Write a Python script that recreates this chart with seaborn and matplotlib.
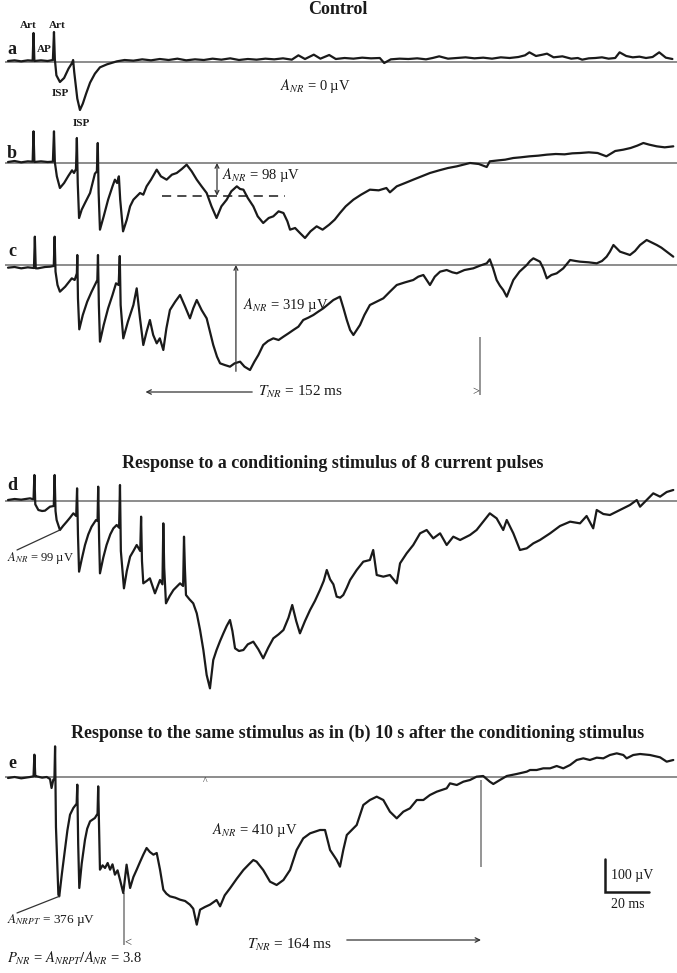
import matplotlib
matplotlib.use("Agg")
import matplotlib.pyplot as plt
import seaborn as sns

# Field potential traces, time in ms from sweep start, potential in uV
# relative to the pre-stimulus baseline

a_t = [0, 3, 6, 9, 11.2, 11.6, 12.0, 15, 18, 20.4, 20.9, 21.3, 22.0, 23.6, 25.5, 27.5, 29.1, 29.6,
       30.1, 31.5, 32.7, 34, 35.5, 37.3, 39.5, 41.8, 45, 49.5, 53, 57, 61, 65, 69, 73, 77, 81, 85,
       89, 93, 97, 101, 105, 109, 113, 117, 121, 125, 129, 132, 135, 139, 142, 146, 149, 153, 157,
       161, 165, 169, 171, 174, 178, 182, 186, 190, 193, 196, 200, 204, 208, 212, 216, 220, 224,
       228, 232, 235, 237, 240, 243, 245, 248, 252, 256, 259, 261, 264, 267, 270, 273, 276, 278,
       281, 284, 287, 290, 293, 296, 299, 302]
a_uv = [3, 5, 2, 5, 4, 87, 3, 5, 3, 6, 90, 8, -40, -60, -48, -20, -3, 6,
        -30, -110, -144, -125, -95, -62, -35, -16, -7, 2, 6, 4, 8, 5, 9, 6, 10, 5, 8,
        6, 10, 7, 11, 6, 9, 7, 10, 8, 11, 7, 20, 9, 22, 10, 21, 9, 12, 10,
        13, 11, 12, -3, 8, 10, 9, 11, 8, 12, 17, 10, 12, 14, 11, 13, 10, 14,
        12, 15, 20, 29, 18, 22, 25, 14, 17, 10, 12, 7, 11, 12, 14, 10, 12, 29,
        18, 14, 16, 12, 15, 29, 13, 9]

b_t = [0, 3, 6, 9, 11.2, 11.6, 12.0, 15, 18, 20.4, 20.9, 21.3, 22.2, 23.6, 25.5, 27.5, 29.1, 30,
       30.9, 31.3, 31.7, 32.3, 33.5, 35, 37.3, 39.5, 40.4, 40.8, 41.2, 41.8, 43.5, 45.5, 47.5, 48.6,
       49.6, 50.4, 51, 52.3, 54, 55.5, 57, 58.5, 60, 61.5, 63, 65, 67.6, 69.5, 72.1, 74.5, 76.7, 79,
       81.2, 83.5, 85.8, 88, 90.3, 92.5, 94.8, 97, 99.4, 101.5, 104, 105.5, 107, 109, 111.5, 113.5,
       116, 118.5, 120.6, 123, 125.2, 127, 128.2, 130.5, 132.7, 135, 137.5, 140.3, 143, 146, 148.5,
       150.9, 153.5, 157, 160.5, 164.5, 168.5, 172, 173.6, 176.7, 180.5, 184.2, 188, 191.8, 196,
       200, 204, 207, 210, 214, 217.6, 219, 223, 226, 229.7, 233, 237, 241, 244.9, 249, 253, 256.5,
       260, 264, 268, 272, 276, 279.7, 283, 286, 288.8, 291.5, 294.9, 298.5, 302.4]
b_uv = [3, 6, 2, 5, 4, 95, 3, 5, 3, 4, 95, 2, -40, -75, -60, -38, -22, -30,
        -18, 75, -60, -165, -140, -120, -90, -32, -25, 60, -90, -200, -160, -110, -70, -50,
        -60, -40, -110, -205, -170, -130, -110, -100, -90, -95, -70, -50, -20, -40, -50, -35, -30, -18,
        -5, -25, -50, -70, -90, -130, -165, -130, -110, -85, -70, -78, -80, -105, -130, -160,
        -180, -165, -160, -145, -150, -175, -200, -195, -210, -225, -205, -190, -200, -185, -170,
        -150, -130, -110, -95, -80, -82, -75, -88, -70, -60, -50, -40, -30, -22,
        -15, -10, -5, 0, -3, -12, 5, 8, 10, 15, 17, 20, 22, 25, 27, 26, 29,
        30, 32, 30, 20, 36, 40, 45, 52, 60, 55, 50, 47, 50]

c_t = [0, 3, 6, 9, 11.8, 12.2, 12.6, 13.6, 16.8, 19.1, 20.8, 21.2, 21.6, 22.5, 23.6, 26, 29, 30.3,
       31.3, 31.5, 31.8, 32.4, 34, 36, 38, 39.5, 40.6, 40.9, 41.3, 41.8, 43.5, 45.5, 47.5, 49.1,
       50.3, 50.8, 51.2, 52.4, 54.5, 57, 58.5, 60, 61.5, 63, 64.5, 66, 67.6, 69, 70.6, 72, 73.6, 76,
       78.2, 80.5, 82.7, 84.2, 85.8, 88, 90.3, 91.8, 93.3, 95, 96.4, 98.5, 100.9, 103, 105.5, 107.5,
       110, 112, 113.8, 116, 118.2, 120.6, 123, 125.2, 127.5, 129.7, 132, 134.2, 136.5, 138.8, 141,
       143.3, 145.5, 147.9, 150.9, 152.5, 154, 155.5, 157, 158.5, 160, 162, 164.5, 167.5, 170.6,
       173.6, 176.7, 180.5, 184.2, 186.5, 188.8, 190.3, 191.8, 194, 196.4, 199.4, 202, 204, 207.5,
       211.5, 214.5, 217.6, 219, 220.5, 222.1, 223.6, 225.1, 226.7, 228.2, 229.7, 232.5, 235.8,
       237.3, 238.8, 241.8, 243.3, 244.9, 247, 249.4, 252.4, 255.5, 258, 260, 264, 267.6, 270,
       272.1, 273.6, 275.2, 278.2, 280.5, 282.7, 285, 287.3, 290.3, 292.5, 294.9, 297, 299.4, 302.4]
c_uv = [-8, -6, -10, -7, -9, 85, -10, -10, -6, -5, -3, 85, -20, -60, -80, -65, -40, -45,
        -25, 30, -100, -193, -150, -110, -80, -60, -45, 30, -120, -230, -180, -130, -90, -55,
        -60, 27, -120, -220, -170, -120, -70, -160, -240, -200, -165, -210, -235, -220, -255, -190, -135, -110,
        -90, -125, -160, -130, -105, -135, -160, -200, -240, -275, -295, -300, -305, -295, -290, -305,
        -315, -290, -270, -240, -228, -220, -225, -215, -205, -195, -185, -165, -158, -150, -140,
        -130, -118, -105, -95, -130, -165, -195, -210, -195, -180, -150, -120, -110, -100,
        -80, -60, -52, -45, -35, -30, -45, -60, -35, -20, -15, -22, -25, -15,
        -10, -2, 5, 17, -10, -45, -62, -75, -95, -70, -45, -20, 0,
        12, 20, 10, -10, -40, -30, -25, -10, 15, 12, 10, 8, 5, 12,
        25, 40, 60, 40, 35, 30, 42, 60, 75, 68, 60, 52, 40, 25]

d_t = [0, 3, 6, 10, 11.6, 12.0, 12.4, 13.8, 15.5, 16.8, 19.1, 20.8, 21.2, 21.6, 22.1, 23.6, 25, 26.7,
       28.2, 29.7, 31, 31.4, 31.8, 32.3, 33.5, 35, 36.5, 38, 40, 40.7, 41, 41.4, 41.8, 43.3, 44.8,
       46.5, 47.9, 49.4, 50.5, 50.9, 51.3, 52.7, 54, 55.5, 57, 58.5, 60.1, 60.5, 60.9, 61.5, 63,
       64.5, 66.8, 69.1, 70.2, 70.6, 71, 71.8, 73.5, 75.2, 77, 78.2, 79.6, 80, 80.4, 80.9, 82.5,
       84.2, 85.8, 87.3, 88.8, 90.3, 91.8, 93.3, 94.8, 96.4, 97.9, 99.4, 100.9, 102, 103.2, 105, 107,
       109, 111.5, 113.8, 116, 118.3, 120.6, 123, 125.2, 127.5, 129.2, 131, 132.7, 135, 137.3,
       139.5, 141.8, 143.5, 144.9, 146.4, 147.9, 149.4, 151, 152.4, 154, 155.5, 158.5, 161.5,
       164.5, 166, 167.6, 170.6, 173.6, 176.7, 178.2, 181.2, 184.2, 187.3, 190.3, 193.3, 196.4,
       199.4, 202.4, 205.5, 210, 213, 216, 219, 222.1, 225.1, 226.7, 229.7, 232.7, 235.8, 238.8,
       241.8, 246.4, 250.9, 255.5, 260, 263, 266, 267.6, 270.6, 273.6, 278.2, 282.7, 285.8, 287.3,
       290.3, 293.3, 296.4, 299.4, 302.4]
d_uv = [3, 6, 4, 8, 5, 78, -10, -27, -30, -29, -17, -15, 78, -30, -57, -87, -75, -62,
        -50, -37, -45, 38, -100, -212, -175, -132, -100, -77, -57, -60, 43, -110, -217, -170, -132,
        -100, -82, -72, -80, 48, -150, -262, -210, -167, -150, -132, -150, -47, -180, -247, -240,
        -232, -277, -237, -250, -67, -200, -307, -285, -267, -255, -247, -255, -107, -200, -282, -295,
        -307, -337, -387, -447, -522, -562, -477, -447, -420, -397, -375, -357, -390, -442, -450, -447,
        -430, -422, -445, -472, -440, -412, -400, -387, -350, -312, -360, -397, -360, -327,
        -300, -267, -240, -207, -235, -250, -287, -290, -282, -260, -237, -207, -182,
        -177, -147, -222, -227, -222, -247, -187, -157, -132, -97, -87, -112, -97,
        -132, -107, -117, -102, -87, -62, -37, -52, -87, -57, -97, -147, -142, -127,
        -117, -97, -75, -62, -67, -45, -82, -27, -39, -42, -27, -12, 3, -17,
        3, 23, 13, 27, 33]

e_t = [0, 3, 6, 10, 11.6, 12.0, 12.4, 13, 15.5, 17.6, 19.1, 19.8, 20.6, 21.1, 21.4, 21.8, 22.9, 23.3,
       24.5, 25.9, 27, 28.2, 29.7, 31.2, 31.5, 31.9, 32.4, 33.5, 35, 36, 37.3, 39.5, 40.7, 41, 41.4,
       41.8, 43, 44.1, 45.3, 46.4, 47.5, 48.6, 49.8, 50.9, 52.4, 53.9, 55.5, 57, 58.5, 60, 61.5, 63,
       64.5, 66.1, 67.6, 69.1, 70.6, 72, 73.6, 76, 78.2, 80.5, 82.7, 84.2, 85.8, 87.3, 89.5, 91.8,
       94.8, 96.4, 98.5, 100.9, 104, 107, 109.5, 111.5, 113, 116, 119.1, 122.1, 125.2, 128.2, 131.2,
       134.2, 137.3, 141.8, 144.1, 146.4, 149.4, 150.9, 152.4, 154, 155.5, 158.5, 161.5, 164.5,
       167.6, 170.6, 173.6, 176.7, 179.7, 182.7, 185.8, 188.8, 191.8, 194.9, 199.4, 200.9, 204, 207,
       210, 213, 216, 219, 220.6, 223.6, 226.7, 231.2, 235.8, 237.3, 240.3, 243.3, 246.4, 249.4,
       252.4, 255.5, 258.5, 261.5, 264.5, 267.6, 270.6, 273.6, 276.7, 279.7, 281.2, 284.2, 287.3,
       291.8, 296.4, 299.4, 302.4]
e_uv = [-3, 0, -4, 0, 2, 67, 2, 2, -2, 0, -6, -33, -8, -5, 92, -150, -353, -358,
        -290, -218, -160, -113, -93, -80, -23, -200, -333, -260, -188, -155, -133, -123, -110, -28, -150,
        -278, -265, -273, -258, -278, -262, -293, -280, -308, -348, -263, -333, -300, -278, -255, -233, -213,
        -225, -233, -228, -278, -338, -350, -358, -362, -368, -372, -383, -395, -443, -398, -390, -383,
        -369, -388, -355, -334, -305, -279, -262, -249, -254, -279, -314, -324, -309, -279, -219,
        -184, -169, -159, -159, -219, -249, -269, -219, -174, -164, -144, -84, -69,
        -59, -69, -104, -124, -104, -94, -69, -69, -54, -44, -34, -19, -24, -14,
        -9, 1, 3, -14, -21, -9, 3, 9, 16, 21, 21, 26, 26, 33,
        26, 36, 51, 56, 51, 58, 56, 66, 71, 66, 56, 66, 69,
        66, 59, 46, 51]

# measured quantities shown on the figure
A_NR_B = 98        # uV, dashed level in b
A_NR_C = 319       # uV
T_NR_C = (62.5, 214.5)   # ms, start / end of the negative response in c
T_NR_E = (52.7, 215.0)   # ms, same in e
SCALE_UV = 100
SCALE_MS = 20

W, H = 677, 973
PX_PER_MS = 2.2
UV_PER_PX = 3.0
X0 = 8

TRACE = '#1a1a1a'
BASE = '#8c8c8c'
INK = '#1a1a1a'

sns.set_theme(style="white")
plt.rcParams['font.family'] = ['Liberation Serif', 'DejaVu Serif']
plt.rcParams['mathtext.fontset'] = 'stix'

fig = plt.figure(figsize=(W / 100, H / 100), dpi=100)


def panel(base_px, up=50, down=215):
    ax = fig.add_axes([0, 1 - (base_px + down) / H, 1, (up + down) / H])
    ax.set_xlim(-X0 / PX_PER_MS, (W - X0) / PX_PER_MS)
    ax.set_ylim(-down * UV_PER_PX, up * UV_PER_PX)
    ax.set_axis_off()
    ax.patch.set_alpha(0)
    ax.hlines(0, -1.4, 305, color=BASE, lw=1.4, zorder=1)
    return ax


def trace(ax, t, uv):
    sns.lineplot(x=t, y=uv, ax=ax, color=TRACE, lw=1.6, estimator=None,
                 sort=False, legend=False, zorder=3)


def txt(x, y, s, size=11, weight='normal', ha='left', color=INK):
    fig.text(x / W, 1 - y / H, s, fontsize=size, fontweight=weight, ha=ha,
             va='center', color=color)


def pointer(ax, x, y, xy):
    ax.annotate('', xy=xy, xytext=(x / W, 1 - y / H), textcoords='figure fraction',
                arrowprops=dict(arrowstyle='-', color='#333333', lw=0.9,
                                shrinkA=0, shrinkB=0))


ax_a = panel(62)
ax_b = panel(163)
ax_c = panel(265)
ax_d = panel(501)
ax_e = panel(777)

trace(ax_a, a_t, a_uv)
trace(ax_b, b_t, b_uv)
trace(ax_c, c_t, c_uv)
trace(ax_d, d_t, d_uv)
trace(ax_e, e_t, e_uv)

# titles and panel letters
txt(338, 10, 'Control', 13, 'bold', 'center')
txt(333, 463, 'Response to a conditioning stimulus of 8 current pulses', 13, 'bold', 'center')
txt(358, 733, 'Response to the same stimulus as in (b) 10 s after the conditioning stimulus',
    13, 'bold', 'center')
for letter, y in zip('abcde', [50, 153, 251, 485, 763]):
    txt(12, y, letter, 13, 'bold', 'center')

# panel a
txt(28, 25, 'Art', 8, 'bold', 'center')
txt(57, 25, 'Art', 8, 'bold', 'center')
txt(44, 49, 'AP', 8, 'bold', 'center')
txt(60, 93, 'ISP', 8, 'bold', 'center')
txt(81, 123, 'ISP', 8, 'bold', 'center')
txt(280, 86, r'$A_{NR}$ = 0 µV', 10.5)

# panel b
ax_b.hlines(-A_NR_B, 70, 126, color=TRACE, lw=1.1, linestyles=(0, (6, 4)), zorder=2)
ax_b.annotate('', xy=(95, 0), xytext=(95, -A_NR_B),
              arrowprops=dict(arrowstyle='<->', color='#333333', lw=0.9,
                              shrinkA=0, shrinkB=0, mutation_scale=7))
txt(222, 175, r'$A_{NR}$ = 98 µV', 10.5)

# panel c
ax_c.annotate('', xy=(103.6, 0), xytext=(103.6, -A_NR_C),
              arrowprops=dict(arrowstyle='->', color='#333333', lw=0.9,
                              shrinkA=0, shrinkB=0, mutation_scale=7))
txt(243, 305, r'$A_{NR}$ = 319 µV', 10.5)
ax_c.vlines(T_NR_C[1], -390, -216, color=BASE, lw=1.3)
ax_c.annotate('', xy=(T_NR_C[0], -381), xytext=(111, -381),
              arrowprops=dict(arrowstyle='->', color='#333333', lw=0.9,
                              shrinkA=0, shrinkB=0, mutation_scale=8))
txt(258, 392, r'$T_{NR}$ = 152 ms', 11)
txt(476, 392, '>', 9, ha='center', color='#333333')

# panel d
pointer(ax_d, 17, 550, (23.6, -87))
txt(7, 558, r'$A_{NR}$ = 99 µV', 9)

# panel e
txt(205, 781, '^', 7, ha='center', color='#333333')
txt(212, 830, r'$A_{NR}$ = 410 µV', 10.5)
pointer(ax_e, 17, 913, (23.3, -358))
txt(7, 920, r'$A_{NRPT}$ = 376 µV', 9.5)
txt(7, 958, r'$P_{NR}$ = $A_{NRPT}/A_{NR}$ = 3.8', 10.5)
ax_e.vlines(T_NR_E[0], -504, -348, color=BASE, lw=1.3)
ax_e.vlines(T_NR_E[1], -270, -9, color=BASE, lw=1.3)
txt(128, 943, '<', 9, ha='center', color='#333333')
txt(247, 945, r'$T_{NR}$ = 164 ms', 11)
ax_e.annotate('', xy=(T_NR_E[1], -489), xytext=(154, -489),
              arrowprops=dict(arrowstyle='->', color='#333333', lw=0.9,
                              shrinkA=0, shrinkB=0, mutation_scale=8))

# scale bar
sb_t, sb_uv = 271.4, -345
ax_e.plot([sb_t, sb_t, sb_t + SCALE_MS], [sb_uv + SCALE_UV, sb_uv, sb_uv],
          color=TRACE, lw=1.8, solid_joinstyle='miter')
txt(611, 875, '100 µV', 10)
txt(628, 905, '20 ms', 10, ha='center')

fig.savefig('out.png', dpi=100)
